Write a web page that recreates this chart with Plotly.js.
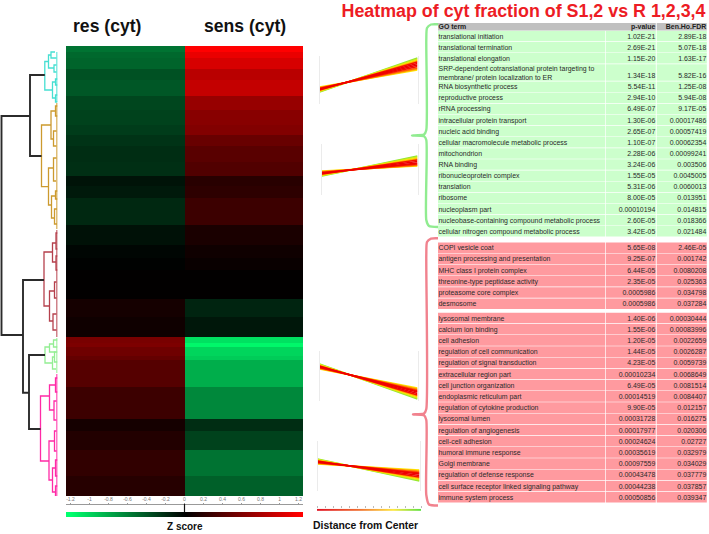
<!DOCTYPE html>
<html><head><meta charset="utf-8">
<script src="https://cdn.plot.ly/plotly-3.0.1.min.js"></script>
<style>html,body{margin:0;padding:0;background:#fff}#c{width:709px;height:534px}</style>
</head><body><div id="c"></div>
<script>
// ---------- DATA ----------
const conditions = ['res (cyt)', 'sens (cyt)'];
// gene-rank edges of the heat-map bands (about 450 genes, most up-regulated in sens first)
const rankEdges = [0,6,12,23,34,50,64,79,89,100,116,130,140,152,179,199,212,224,253,271,291,297,301,310,314,341,373,385,404,430,450];
const resZ  = [-.54,-.49,-.47,-.38,-.41,-.33,-.31,-.28,-.24,-.21,-.22,-.09,-.12,-.19,-.08,-.03,-.01,0.01,.10,.07,.57,.59,.52,.47,.40,.28,.10,.16,.23,.18];
const sensZ = [1.2,1.1,1.01,.87,.92,.71,.64,.61,.49,.42,.38,.19,.21,.28,.12,.07,.04,.01,-.17,-.11,-1.06,-1.16,-1.0,-.96,-.82,-.64,-.21,-.31,-.54,-.45];
const zScaleTicks = [-1.2,-1,-.8,-.6,-.4,-.2,0,.2,.4,.6,.8,1,1.2];

// dendrogram nodes: [height, rank of upper child, rank of lower child, height of upper child, height of lower child]
const trunkNodes = [[56,70,289,27.5,34.5],[27.5,29,110,12.7,16],[34.5,234,346.7,13.5,28.5],[28.5,309,383,12.5,17]];
const cyanNodes = [[12.7,15.5,44,9,5],[9,9,22,6.5,3.5],[6.5,6,12,2.5,1],[3.5,19,26,1,1],[5,36,52,2,2],[2,33,39,0,0],[2,49,56,0,0]];
const goldNodes = [[16,79,140.7,6.5,9],[6.5,65,93,2,4],[2,60,70,0,0],[4,85,100,1,1],[9,122,159,4,6],[4,112,135,1,1.5],[6,150,172,2,3],[3,163,178,.5,.5],[2,145,153,0,0]];
const redNodes = [[13.5,206,260,5,8],[5,197,216,1.5,1.5],[1.5,187,203,0,0],[1.5,210,224,0,0],[8,245,275,3,4.5],[3,236,252,1,1],[4.5,268,284,1,1]];
const limeNodes = [[12.5,301,317,8,5],[8,298,306,4,2],[4,294,301,0,0],[5,311,323,3,1.5],[3,306,316,0,0]];
const pinkNodes = [[17,350,415,8,8.5],[8,339,364,2,3.5],[2,332,346,0,0],[3.5,355,374,1,1],[8.5,395,434,3,5],[3,385,405,1,1],[5,422,446,2,2],[2,414,430,0,0],[2,440,452,0,0]];
const clusterLeafRanks = [[6,56],[57,183],[184,291],[292,327],[328,456]];

// cluster-mean profile lines, res value then sens value, ordered by distance from centre
const p1Res  = [-.75,-.72,-.69,-.66,-.63,-.59,-.56,-.53,-.5,-.48,-.44];
const p1Sens = [1.38,1.31,1.25,1.19,1.13,1.03,.94,.84,.75,.69,.63];
const p2Res  = [-.38,-.36,-.32,-.30,-.26,-.24,-.21,-.18,-.15,-.12,-.09];
const p2Sens = [.79,.74,.68,.62,.56,.47,.38,.32,.26,.24,.21];
const p3Res  = [.72,.69,.66,.63,.60,.57,.54,.51,.48,.45,.42];
const p3Sens = [-1.38,-1.32,-1.26,-1.2,-1.14,-1.05,-.96,-.9,-.84,-.78,-.72];
const p4Res  = [.42,.39,.36,.33,.30,.27,.24,.21,.18,.15,.12];
const p4Sens = [-.90,-.84,-.78,-.72,-.66,-.57,-.48,-.42,-.36,-.30,-.24];

const greenTerms = ['translational initiation','translational termination','translational elongation','SRP-dependent cotranslational protein targeting to<br>membrane/ protein localization to ER','RNA biosynthetic process','reproductive process','rRNA processing','intracellular protein transport','nucleic acid binding','cellular macromolecule metabolic process','mitochondrion','RNA binding','ribonucleoprotein complex','translation','ribosome','nucleoplasm part','nucleobase-containing compound metabolic process','cellular nitrogen compound metabolic process'];
const greenP = ['1.02E-21','2.69E-21','1.15E-20','1.34E-18','5.54E-11','2.94E-10','6.49E-07','1.30E-06','2.65E-07','1.10E-07','2.28E-06','3.24E-06','1.55E-05','5.31E-06','8.00E-05','0.00010194','2.60E-05','3.42E-05'];
const greenFdr = ['2.89E-18','5.07E-18','1.63E-17','5.82E-16','1.25E-08','5.94E-08','9.17E-05','0.00017486','0.00057419','0.00062354','0.00099241','0.003506','0.0045005','0.0060013','0.013951','0.014815','0.018366','0.021484'];
const red1Terms = ['COPI vesicle coat','antigen processing and presentation','MHC class I protein complex','threonine-type peptidase activity','proteasome core complex','desmosome'];
const red1P = ['5.65E-08','9.25E-07','6.44E-05','2.35E-05','0.0005986','0.0005986'];
const red1Fdr = ['2.46E-05','0.001742','0.0080208','0.025363','0.034798','0.037284'];
const red2Terms = ['lysosomal membrane','calcium ion binding','cell adhesion','regulation of cell communication','regulation of signal transduction','extracellular region part','cell junction organization','endoplasmic reticulum part','regulation of cytokine production','lysosomal lumen','regulation of angiogenesis','cell-cell adhesion','humoral immune response','Golgi membrane','regulation of defense response','cell surface receptor linked signaling pathway','immune system process'];
const red2P = ['1.40E-06','1.55E-06','1.20E-05','1.44E-05','4.23E-05','0.00010234','6.49E-05','0.00014519','9.90E-05','0.00031728','0.00017977','0.00024624','0.00035619','0.00097559','0.00043478','0.00044238','0.00050856'];
const red2Fdr = ['0.00030444','0.00083996','0.0022659','0.0026287','0.0059739','0.0068649','0.0081514','0.0084407','0.012157','0.016275','0.020306','0.02727','0.032979','0.034029','0.037779','0.037857','0.039347'];

// ---------- LAYOUT HELPERS ----------
const W = 709, H = 534;
const dx = (a,b) => [a/W, b/W];
const dy = (top,bot) => [1-bot/H, 1-top/H];
const F = 'Liberation Sans, Arial, sans-serif';
const hidden = {visible:false, fixedrange:true};
const zScale = [[0,'rgb(0,255,110)'],[.5,'rgb(0,0,0)'],[1,'rgb(255,0,0)']];

const traces = [];
const shapes = [];
const layout = {
  width:W, height:H, margin:{l:0,r:0,t:0,b:0}, paper_bgcolor:'#fff', plot_bgcolor:'rgba(0,0,0,0)',
  showlegend:false, hovermode:false, font:{family:F},
  title:{text:'Heatmap of cyt fraction of S1,2 vs R 1,2,3,4', x:523.5/W, xanchor:'center', y:1-10.5/H, yanchor:'middle',
         font:{family:F,size:17.85,color:'#ed1c24',weight:700}},
  shapes, annotations:[]
};

// heat map
layout.xaxis = {...hidden, domain:dx(66,303), type:'category', categoryorder:'array', categoryarray:conditions};
layout.yaxis = {...hidden, domain:dy(46,496), range:[450,0]};
traces.push({type:'heatmap', x:conditions, y:rankEdges, z:resZ.map((v,i)=>[v,sensZ[i]]),
  colorscale:zScale, zmin:-1.2, zmax:1.2, showscale:false, xaxis:'x', yaxis:'y'});

// canvas axes: table and brackets
layout.xaxis2 = {...hidden, domain:[0,1], range:[0,W]};
layout.yaxis2 = {...hidden, domain:[0,1], range:[H,0]};

// dendrogram shares the heat map's rank axis
layout.xaxis3 = {...hidden, domain:dx(0,57.5), range:[57.5,0], anchor:'y'};
function dendro(nodes, color, width, leaves){
  const x=[], y=[];
  nodes.forEach(n=>{ x.push(n[3],n[0],n[0],n[4],null); y.push(n[1],n[1],n[2],n[2],null); });
  if(leaves){ x.push(.5,.5); y.push(leaves[0],leaves[1]); }
  traces.push({type:'scatter',mode:'lines',x,y,xaxis:'x3',yaxis:'y',cliponaxis:false,line:{color,width}});
}
dendro(cyanNodes,'#45dfd2',1.3,clusterLeafRanks[0]);
dendro(goldNodes,'#cc9a2e',1.3,clusterLeafRanks[1]);
dendro(redNodes,'#b5404c',1.3,clusterLeafRanks[2]);
dendro(limeNodes,'#93ee93',1.3,clusterLeafRanks[3]);
dendro(pinkNodes,'#ff2aa6',1.3,clusterLeafRanks[4]);
dendro(trunkNodes,'#2b2b2b',1.9);

// z-score scale
layout.xaxis4 = {domain:dx(66,303), range:[-1.247,1.247], anchor:'free', position:1-504/H, side:'top', fixedrange:true,
  tickmode:'array', tickvals:zScaleTicks, ticktext:zScaleTicks.map(String), ticks:'outside', ticklen:1, tickcolor:'#999',
  showline:true, linecolor:'#999', linewidth:1, showgrid:false, zeroline:false, tickfont:{size:5,color:'#777',family:F}};
layout.yaxis4 = {...hidden, domain:dy(512,517.5), range:[0,1]};
traces.push({type:'heatmap', x:[-1.247].concat(zScaleTicks,[1.247]), y:[0,1], z:[0,1].map(()=>[-1.2].concat(zScaleTicks,[1.2])),
  zsmooth:'best', colorscale:zScale, zmin:-1.2, zmax:1.2, showscale:false, xaxis:'x4', yaxis:'y4'});
shapes.push({type:'line', xref:'x4', yref:'paper', x0:0, x1:0, y0:1-504/H, y1:1-512/H, line:{color:'#111',width:1.2}});

// profile panels
const lineColors = ['#8fe830','#c8e820','#ffe600','#ffa200','#f51000','#ee0000','#ee0000','#f51000','#ff6000','#ffa200','#ffe600'];
const drawOrder = [0,10,1,9,2,3,8,7,4,6,5];
function panel(n, left, right, top, bot, res, sens){
  layout['xaxis'+n] = {...hidden, domain:dx(left,right), range:[0,1], anchor:'y'+n};
  layout['yaxis'+n] = {domain:dy(top,bot), range:[-1.5,1.5], anchor:'x'+n, fixedrange:true, showline:true, mirror:true,
    linecolor:'#ebebeb', linewidth:1, ticks:'', showticklabels:false, showgrid:false, zeroline:false};
  drawOrder.forEach(i=>traces.push({type:'scatter',mode:'lines',x:[0,1],y:[res[i],sens[i]],xaxis:'x'+n,yaxis:'y'+n,
    line:{color:lineColors[i],width:1.5}}));
}
panel(5,319.5,417.5,56,104,p1Res,p1Sens);
panel(6,322,417.5,144,195,p2Res,p2Sens);
panel(7,319.5,417.5,351,401,p3Res,p3Sens);
panel(8,317.5,419.5,441,491,p4Res,p4Sens);

// distance-from-centre scale
layout.xaxis9 = {domain:dx(317,421.5), range:[0,1.3], anchor:'free', position:1-508.3/H, side:'top', fixedrange:true,
  tick0:.0, dtick:.1, ticks:'outside', ticklen:2, tickcolor:'#bbb', showticklabels:false, showline:false, showgrid:false, zeroline:false};
layout.yaxis9 = {...hidden, domain:dy(508.8,511.2), range:[0,1]};
const distStops = [0,.26,.52,.78,1.04,1.3];
traces.push({type:'heatmap', x:distStops, y:[0,1], z:[0,1].map(()=>distStops), zsmooth:'best', showscale:false, xaxis:'x9', yaxis:'y9',
  zmin:0, zmax:1.3, colorscale:[[0,'#e01020'],[.4,'#f07030'],[.72,'#ffe840'],[1,'#50e040']]});

// tables
const colX = [[438,605],[605.7,655.8],[656.7,706.8]];
function table(top, rowH, terms, p, fdr, fill, tallIndex, tallH){
  const ys=[], ysNum=[];
  let y=top;
  terms.forEach((t,i)=>{
    const h = i===tallIndex ? tallH : rowH;
    colX.forEach(c=>shapes.push({type:'rect',layer:'below',xref:'x2',yref:'y2',x0:c[0],x1:c[1],y0:y,y1:y+h-.6,fillcolor:fill,line:{width:0}}));
    ys.push(y+h/2+.5); ysNum.push(y+h-rowH/2+.5);
    y+=h;
  });
  const f={family:F,size:6.95,color:'#2a2a2a'};
  traces.push({type:'scatter',mode:'text',x:terms.map(()=>438.5),y:ys,text:terms,textposition:'middle right',textfont:f,xaxis:'x2',yaxis:'y2',cliponaxis:false});
  traces.push({type:'scatter',mode:'text',x:p.map(()=>655.3),y:ysNum,text:p,textposition:'middle left',textfont:f,xaxis:'x2',yaxis:'y2',cliponaxis:false});
  traces.push({type:'scatter',mode:'text',x:fdr.map(()=>706.3),y:ysNum,text:fdr,textposition:'middle left',textfont:f,xaxis:'x2',yaxis:'y2',cliponaxis:false});
}
table(30.8,11.12,greenTerms,greenP,greenFdr,'#ccffcc',3,17.3);
table(242.4,11.2,red1Terms,red1P,red1Fdr,'#ff9a9f');
table(312.7,11.2,red2Terms,red2P,red2Fdr,'#ff9a9f');
// table header
shapes.push({type:'rect',layer:'below',xref:'x2',yref:'y2',x0:438,x1:655.8,y0:23,y1:30.6,fillcolor:'#c0c0c0',line:{width:0}});
shapes.push({type:'rect',layer:'below',xref:'x2',yref:'y2',x0:656.7,x1:706.8,y0:23,y1:30.6,fillcolor:'#c0c0c0',line:{width:0}});
const hf={family:F,size:6.95,color:'#222',weight:700};
traces.push({type:'scatter',mode:'text',x:[438.5],y:[27.5],text:['GO term'],textposition:'middle right',textfont:hf,xaxis:'x2',yaxis:'y2'});
traces.push({type:'scatter',mode:'text',x:[655.3,706.3],y:[27.5,27.5],text:['p-value','Ben.Ho.FDR'],textposition:'middle left',textfont:hf,xaxis:'x2',yaxis:'y2'});

// brackets
traces.push({type:'scatter',mode:'lines',xaxis:'x2',yaxis:'y2',line:{color:'#90ec90',width:2.4,shape:'spline',smoothing:.6},
  x:[438,431,427,426.3,426.3,424,412,424,426.3,426.3,429,438], y:[24.3,24.5,28,40,130,134.6,135.4,136.2,140,220,226,227]});
traces.push({type:'scatter',mode:'lines',xaxis:'x2',yaxis:'y2',line:{color:'#f1828e',width:2.4,shape:'spline',smoothing:.6},
  x:[438,431,427,426.3,426.3,424,413,424,426.3,426.3,429,438], y:[238.3,238.6,242,255,409,413.6,414.4,415.2,420,495,504.5,505.5]});

// text labels
const ann=(x,y,text,size)=>layout.annotations.push({xref:'paper',yref:'paper',x:x/W,y:1-y/H,text,showarrow:false,xanchor:'center',yanchor:'middle',
  font:{family:F,size,color:'#111',weight:700}});
ann(107.5,26,'res (cyt)',17.6);
ann(244.5,26,'sens (cyt)',17.6);
ann(184.5,526.5,'Z score',10);
ann(365.5,525,'Distance from Center',10.4);

Plotly.newPlot('c',traces,layout,{staticPlot:true,displayModeBar:false});
</script></body></html>
